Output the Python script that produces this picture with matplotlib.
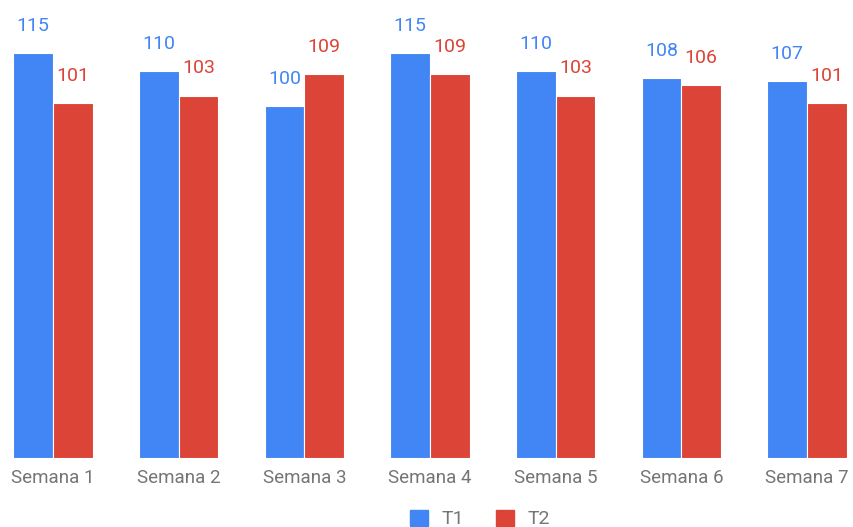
import matplotlib.pyplot as plt
import numpy as np
from matplotlib.patches import Patch

plt.rcParams['font.family'] = ['Roboto', 'DejaVu Sans']

semanas = ['Semana 1', 'Semana 2', 'Semana 3', 'Semana 4', 'Semana 5', 'Semana 6', 'Semana 7']
t1 = [115, 110, 100, 115, 110, 108, 107]
t2 = [101, 103, 109, 109, 103, 106, 101]

azul = '#4285F4'
rojo = '#DB4437'
gris = '#757575'

fig = plt.figure(figsize=(8.54, 5.27), dpi=100)
ax = fig.add_axes([0, 69 / 527, 1, 455 / 527])

x = np.arange(len(semanas))
w = 0.315
b1 = ax.bar(x - w / 2, t1, w, color=azul, edgecolor='white', linewidth=0.8)
b2 = ax.bar(x + w / 2, t2, w, color=rojo, edgecolor='white', linewidth=0.8)

for bars, vals, col in [(b1, t1, azul), (b2, t2, rojo)]:
    for rect, v in zip(bars, vals):
        ax.annotate(str(v), (rect.get_x() + rect.get_width() / 2, v),
                    xytext=(0, 13), textcoords='offset points',
                    ha='center', va='bottom', fontsize=14, color=col)

ax.set_xlim(-53 / 125.67, (854 - 53) / 125.67)
ax.set_ylim(0, 129.3)
ax.set_xticks(x)
ax.set_xticklabels(semanas, fontsize=13.5, color=gris)
ax.tick_params(axis='x', length=0, pad=8)
ax.set_yticks([])
for s in ax.spines.values():
    s.set_visible(False)

handles = [Patch(color=azul, label='T1'), Patch(color=rojo, label='T2')]
fig.legend(handles=handles, loc='center', bbox_to_anchor=(480 / 854, 1 - 519 / 527),
           ncol=2, frameon=False, fontsize=14, labelcolor=gris,
           handlelength=0.93, handleheight=0.93, handletextpad=0.67, columnspacing=1.65)

fig.savefig('out.png', dpi=100)
